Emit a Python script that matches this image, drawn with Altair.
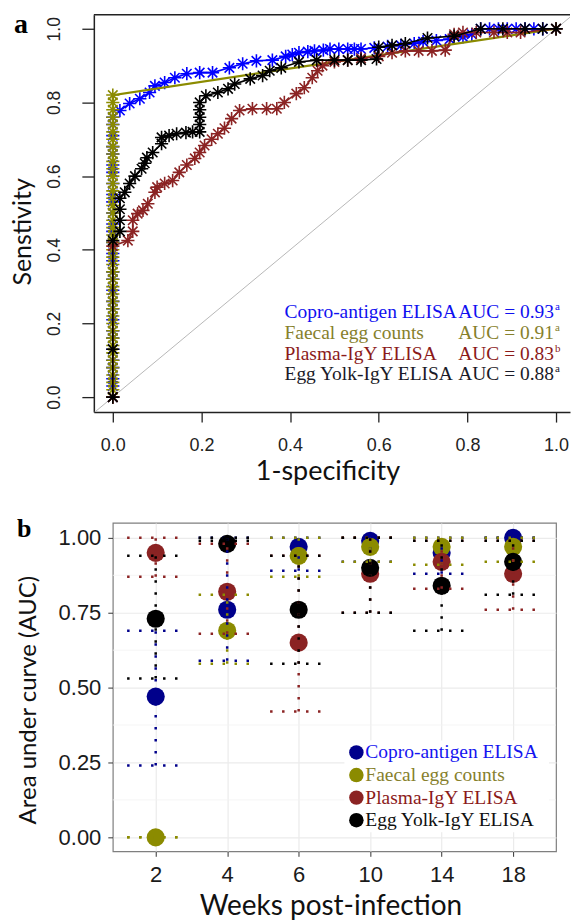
import altair as alt
import pandas as pd

# ------------------------------------------------------------------ panel a data (ROC curves)
series_names = ["Copro-antigen ELISA", "Faecal egg counts", "Plasma-IgY ELISA", "Egg Yolk-IgY ELISA"]
auc_labels = ["AUC = 0.93", "AUC = 0.91", "AUC = 0.83", "AUC = 0.88"]
auc_letters = ["a", "a", "b", "a"]

copro_fpr = [0.0, 0.0, 0.0, 0.0, 0.0, 0.0, 0.0, 0.0, 0.0, 0.0,
             0.0, 0.0, 0.0, 0.0, 0.0, 0.0, 0.0, 0.0, 0.0, 0.0,
             0.0, 0.0, 0.0, 0.0, 0.0, 0.0, 0.0, 0.0, 0.0, 0.0,
             0.016, 0.038, 0.061, 0.083, 0.095, 0.117, 0.140, 0.167, 0.196, 0.225,
             0.263, 0.293, 0.324, 0.360, 0.390, 0.405, 0.420, 0.440, 0.455, 0.475,
             0.490, 0.510, 0.530, 0.545, 0.560, 0.590, 0.620, 0.650, 0.680, 0.700,
             0.730, 0.760, 0.790, 0.810, 0.830, 0.850, 0.870, 0.890, 0.910, 0.930,
             0.950, 0.970, 1.000]
copro_tpr = [0.00, 0.03, 0.05, 0.08, 0.10, 0.13, 0.16, 0.18, 0.21, 0.24,
             0.26, 0.29, 0.32, 0.34, 0.37, 0.39, 0.42, 0.45, 0.47, 0.50,
             0.53, 0.55, 0.58, 0.61, 0.63, 0.66, 0.68, 0.71, 0.74, 0.76,
             0.778, 0.797, 0.810, 0.827, 0.845, 0.854, 0.867, 0.878, 0.881, 0.881,
             0.894, 0.905, 0.913, 0.915, 0.925, 0.930, 0.935, 0.938, 0.940, 0.942,
             0.945, 0.945, 0.945, 0.945, 0.945, 0.948, 0.952, 0.955, 0.960, 0.965,
             0.968, 0.972, 0.978, 0.985, 1.000, 1.000, 1.000, 1.000, 1.000, 1.000,
             1.000, 1.000, 1.000]

faecal_fpr = [0.0, 0.0, 0.0, 0.0, 0.0, 0.0, 0.0, 0.0, 0.0, 0.0,
              0.0, 0.0, 0.0, 0.0, 0.0, 0.0, 0.0, 0.0, 0.0, 0.0,
              0.0, 0.0, 0.0, 0.0, 0.0, 0.0, 0.0, 0.0, 0.0, 0.0,
              0.0, 0.0, 0.0, 0.0, 0.0, 0.0, 0.0, 0.0, 0.0, 0.0,
              0.0, 0.0, 1.0]
faecal_tpr = [0.00, 0.02, 0.04, 0.06, 0.08, 0.10, 0.12, 0.14, 0.16, 0.18,
              0.20, 0.22, 0.24, 0.26, 0.28, 0.30, 0.32, 0.34, 0.36, 0.38,
              0.40, 0.42, 0.44, 0.46, 0.48, 0.50, 0.52, 0.54, 0.56, 0.58,
              0.60, 0.62, 0.64, 0.66, 0.68, 0.70, 0.72, 0.74, 0.76, 0.78,
              0.80, 0.82, 1.00]

plasma_fpr = [0.0, 0.0,
              0.034, 0.045, 0.045, 0.056, 0.068, 0.079, 0.095, 0.100, 0.117, 0.135,
              0.150, 0.167, 0.185, 0.196, 0.207, 0.223, 0.237, 0.252, 0.268, 0.286,
              0.315, 0.347, 0.370, 0.387, 0.414, 0.432, 0.450, 0.462, 0.473, 0.500,
              0.530, 0.560, 0.600, 0.630, 0.660, 0.690, 0.720, 0.750, 0.770, 0.790,
              0.820, 0.860, 0.890, 0.920, 1.000]
plasma_tpr = [0.00, 0.41,
              0.425, 0.450, 0.480, 0.498, 0.507, 0.525, 0.556, 0.570, 0.580, 0.588,
              0.610, 0.630, 0.648, 0.664, 0.683, 0.700, 0.715, 0.730, 0.756, 0.778,
              0.783, 0.783, 0.783, 0.800, 0.824, 0.840, 0.867, 0.886, 0.900, 0.910,
              0.915, 0.920, 0.925, 0.935, 0.940, 0.940, 0.940, 0.942, 0.985, 0.990,
              0.990, 0.990, 0.990, 0.990, 1.000]

egg_fpr = [0.0, 0.0, 0.0,
           0.016, 0.016, 0.016, 0.016, 0.027, 0.038, 0.050, 0.065, 0.072, 0.077,
           0.090, 0.110, 0.110, 0.127, 0.144, 0.165, 0.180, 0.196, 0.196, 0.196,
           0.196, 0.196, 0.210, 0.237, 0.260, 0.275, 0.310, 0.338, 0.354, 0.380,
           0.420, 0.460, 0.500, 0.530, 0.560, 0.595, 0.600, 0.630, 0.660, 0.710,
           0.770, 0.830, 0.880, 0.930, 0.970, 1.000]
egg_tpr = [0.00, 0.13, 0.425,
           0.450, 0.480, 0.510, 0.540, 0.556, 0.580, 0.600, 0.620, 0.635, 0.650,
           0.664, 0.688, 0.705, 0.710, 0.715, 0.718, 0.720, 0.720, 0.740, 0.760,
           0.780, 0.800, 0.818, 0.827, 0.837, 0.850, 0.864, 0.873, 0.886, 0.894,
           0.910, 0.915, 0.915, 0.915, 0.915, 0.918, 0.950, 0.955, 0.960, 0.975,
           0.980, 1.000, 1.000, 1.000, 1.000, 1.000]

roc_fpr = [copro_fpr, faecal_fpr, plasma_fpr, egg_fpr]
roc_tpr = [copro_tpr, faecal_tpr, plasma_tpr, egg_tpr]
diag_line = [-0.1, 1.1]
ticks_a = [0.0, 0.2, 0.4, 0.6, 0.8, 1.0]

# ------------------------------------------------------------------ panel b data (AUC by week)
weeks = ["2", "4", "6", "10", "14", "18"]
copro_auc = [0.47, 0.76, 0.97, 0.99, 0.95, 1.00]
copro_lo = [0.24, 0.59, 0.89, 0.92, 0.88, 1.00]
copro_hi = [0.69, 1.00, 1.00, 1.00, 1.00, 1.00]
faecal_auc = [0.00, 0.69, 0.94, 0.97, 0.97, 0.97]
faecal_lo = [0.00, 0.58, 0.87, 0.92, 0.91, 0.92]
faecal_hi = [0.00, 0.81, 1.00, 1.00, 1.00, 1.00]
plasma_auc = [0.95, 0.82, 0.65, 0.88, 0.92, 0.88]
plasma_lo = [0.87, 0.68, 0.42, 0.75, 0.83, 0.76]
plasma_hi = [1.00, 0.98, 0.94, 1.00, 0.99, 0.99]
egg_auc = [0.73, 0.98, 0.76, 0.90, 0.84, 0.92]
egg_lo = [0.53, 0.99, 0.58, 0.75, 0.69, 0.81]
egg_hi = [0.94, 1.00, 0.94, 1.00, 0.99, 0.99]
b_auc = [copro_auc, faecal_auc, plasma_auc, egg_auc]
b_lo = [copro_lo, faecal_lo, plasma_lo, egg_lo]
b_hi = [copro_hi, faecal_hi, plasma_hi, egg_hi]
ticks_b = [0.0, 0.25, 0.50, 0.75, 1.00]
minor_b = [0.125, 0.375, 0.625, 0.875]

# ------------------------------------------------------------------ styles
roc_colors = ["#0000FF", "#8B8B00", "#8B2323", "#000000"]
roc_text_colors = ["#1010F0", "#86802C", "#8B1A1A", "#1A1A28"]
b_colors = ["#00008B", "#8B8B00", "#8B2323", "#000000"]
b_text_colors = ["#1414F0", "#86802C", "#8B1A1A", "#111111"]
ASTERISK = "M-1,0L1,0M0,-1L0,1M-0.72,-0.72L0.72,0.72M-0.72,0.72L0.72,-0.72"
TITLE_FONT = "Lato"

W_A, H_A = 477, 398
W_B, H_B = 444, 329

# ------------------------------------------------------------------ panel a
xs_a = alt.Scale(domain=[-0.0428, 1.0315], nice=False, zero=False)
ys_a = alt.Scale(domain=[-0.0407, 1.038], nice=False, zero=False)
common_a = dict(domainColor="#222222", domainWidth=1.5, tickColor="#222222", tickWidth=1.3,
                labelColor="#222222", labelFont="Liberation Sans", grid=False,
                titleFont=TITLE_FONT, titleFontWeight="normal", titleColor="#111111",
                labelFlush=False, labelOverlap=False)
x_axis_a = alt.Axis(values=ticks_a, format=".1f", title="1-specificity", tickSize=10,
                    labelFontSize=18, labelBaseline="middle", labelPadding=23,
                    titleFontSize=27, titleX=234, titleY=68, titleBaseline="alphabetic",
                    titleAlign="center", **common_a)
y_axis_a = alt.Axis(values=ticks_a, format=".1f", title="Senstivity", tickSize=12,
                    labelFontSize=17.5, labelAngle=270, labelAlign="center",
                    labelBaseline="middle", labelPadding=27,
                    titleFontSize=25, titleAngle=270, titleX=-63, titleY=217,
                    titleBaseline="alphabetic", titleAlign="center", **common_a)

diag_df = pd.DataFrame({"d": diag_line})
layers_a = [
    alt.Chart(diag_df).mark_line(color="#B8B8B8", strokeWidth=1, clip=True).encode(
        x=alt.X("d:Q", scale=xs_a, axis=x_axis_a),
        y=alt.Y("d:Q", scale=ys_a, axis=y_axis_a))
]
for i, name in enumerate(series_names):
    df = pd.DataFrame({"fpr": roc_fpr[i], "tpr": roc_tpr[i], "step": list(range(len(roc_fpr[i])))})
    enc = dict(x=alt.X("fpr:Q", scale=xs_a, axis=x_axis_a),
               y=alt.Y("tpr:Q", scale=ys_a, axis=y_axis_a))
    layers_a.append(alt.Chart(df).mark_line(color=roc_colors[i], strokeWidth=2.2 if i == 1 else 1.6)
                    .encode(order="step:Q", **enc))
    layers_a.append(alt.Chart(df).mark_point(shape=ASTERISK, filled=False, size=175, strokeWidth=1.6,
                                             color=roc_colors[i], opacity=1).encode(**enc))

one = pd.DataFrame({"t": [""]})
# frame top line and layout anchor
layers_a.append(alt.Chart(one).mark_rule(color="#222222", strokeWidth=1.5).encode(
    x=alt.value(0), x2=alt.value(W_A), y=alt.value(0)))
layers_a.append(alt.Chart(one).mark_rule(strokeOpacity=0).encode(
    x=alt.value(-94), x2=alt.value(-94), y=alt.value(-14), y2=alt.value(-14)))

# legend text of panel a
for i, name in enumerate(series_names):
    yy = 298 + i * 20.7
    layers_a.append(alt.Chart(pd.DataFrame({"t": [name]})).mark_text(
        font="Liberation Serif", fontSize=19.5, align="left", baseline="middle", color=roc_text_colors[i]
    ).encode(x=alt.value(191), y=alt.value(yy), text="t:N"))
    layers_a.append(alt.Chart(pd.DataFrame({"t": [auc_labels[i]]})).mark_text(
        font="Liberation Serif", fontSize=19.5, align="right", baseline="middle", color=roc_text_colors[i]
    ).encode(x=alt.value(461), y=alt.value(yy), text="t:N"))
    layers_a.append(alt.Chart(pd.DataFrame({"t": [auc_letters[i]]})).mark_text(
        font="Liberation Serif", fontSize=11, align="left", baseline="middle", color=roc_text_colors[i]
    ).encode(x=alt.value(462), y=alt.value(yy - 5), text="t:N"))

layers_a.append(alt.Chart(pd.DataFrame({"t": ["a"]})).mark_text(
    font="Liberation Serif", fontSize=28, fontWeight="bold", align="left", baseline="alphabetic",
    color="#000000").encode(x=alt.value(-80), y=alt.value(18), text="t:N"))

panel_a = alt.layer(*layers_a).properties(
    width=W_A, height=H_A, view=alt.ViewBackground(strokeOpacity=0))

# ------------------------------------------------------------------ panel b
xs_b = alt.Scale(domain=[-0.6, len(weeks) - 0.4], nice=False, zero=False)
ys_b = alt.Scale(domain=[-0.0467, 1.05], nice=False, zero=False)
label_expr = "[" + ",".join("'" + w + "'" for w in weeks) + "][datum.value]"
common_b = dict(domain=False, grid=True, gridColor="#EBEBEB", gridWidth=1.2, tickSize=5,
                tickColor="#333333", tickWidth=1, labelFont="Liberation Sans", labelFontSize=22,
                labelColor="#1A1A1A", titleFont=TITLE_FONT, titleFontWeight="normal",
                titleColor="#111111", labelFlush=False, labelOverlap=False)
x_axis_b = alt.Axis(values=list(range(len(weeks))), labelExpr=label_expr, title="Weeks post-infection",
                    labelBaseline="middle", labelPadding=18, titleFontSize=28, titleX=218, titleY=63,
                    titleBaseline="alphabetic", titleAlign="center", **common_b)
y_axis_b = alt.Axis(values=ticks_b, format=".2f", title="Area under curve (AUC)",
                    labelBaseline="middle", labelPadding=7, titleFontSize=24, titleAngle=270,
                    titleX=-77, titleY=177, titleBaseline="alphabetic", titleAlign="center", **common_b)

layers_b = [
    alt.Chart(pd.DataFrame({"m": minor_b})).mark_rule(color="#F3F3F3", strokeWidth=0.8).encode(
        y=alt.Y("m:Q", scale=ys_b, axis=y_axis_b), x=alt.value(0), x2=alt.value(W_B))
]
b_frames = []
for i, name in enumerate(series_names):
    b_frames.append(pd.DataFrame({"pos": list(range(len(weeks))), "week": weeks,
                                  "auc": b_auc[i], "lo": b_lo[i], "hi": b_hi[i]}))
for i, df in enumerate(b_frames):
    layers_b.append(alt.Chart(df).mark_circle(size=330, opacity=1, color=b_colors[i]).encode(
        x=alt.X("pos:Q", scale=xs_b, axis=x_axis_b),
        y=alt.Y("auc:Q", scale=ys_b, axis=y_axis_b)))
for i, df in enumerate(b_frames):
    dot = dict(strokeDash=[2.5, 9.5], strokeWidth=2.5, strokeCap="butt", clip=True, color=b_colors[i])
    base = alt.Chart(df).transform_calculate(left="datum.pos - 0.4", right="datum.pos + 0.4")
    layers_b.append(base.mark_rule(**dot).encode(
        x=alt.X("pos:Q", scale=xs_b, axis=x_axis_b),
        y=alt.Y("lo:Q", scale=ys_b, axis=y_axis_b), y2="hi:Q"))
    for fld in ["hi", "lo"]:
        layers_b.append(base.mark_rule(**dot).encode(
            x=alt.X("left:Q", scale=xs_b, axis=x_axis_b), x2="right:Q",
            y=alt.Y(fld + ":Q", scale=ys_b, axis=y_axis_b)))

# legend of panel b
layers_b.append(alt.Chart(one).mark_rect(color="#FFFFFF").encode(
    x=alt.value(232), x2=alt.value(437), y=alt.value(218), y2=alt.value(310)))
for i, name in enumerate(series_names):
    yy = 230 + i * 22.6
    layers_b.append(alt.Chart(one).mark_circle(size=210, opacity=1, color=b_colors[i]).encode(
        x=alt.value(244), y=alt.value(yy)))
    layers_b.append(alt.Chart(pd.DataFrame({"t": [name]})).mark_text(
        font="Liberation Serif", fontSize=19.5, align="left", baseline="middle", color=b_text_colors[i]
    ).encode(x=alt.value(253), y=alt.value(yy), text="t:N"))

layers_b.append(alt.Chart(pd.DataFrame({"t": ["b"]})).mark_text(
    font="Liberation Serif", fontSize=26, fontWeight="bold", align="left", baseline="alphabetic",
    color="#000000").encode(x=alt.value(-96), y=alt.value(14), text="t:N"))

panel_b = alt.layer(*layers_b).properties(
    width=W_B, height=H_B, view=alt.ViewBackground(stroke="#7F7F7F", strokeWidth=1.2))

spacer = alt.Chart(one).mark_point(opacity=0).encode(x=alt.value(0), y=alt.value(0)).properties(
    width=19, height=10, view=alt.ViewBackground(strokeOpacity=0))

chart = alt.vconcat(
    panel_a,
    alt.hconcat(spacer, panel_b, spacing=0, bounds="flush"),
    spacing=111, bounds="flush"
).properties(padding=0, background="#FFFFFF")

chart.save("out.html", embed_options={"renderer": "svg", "actions": False})
